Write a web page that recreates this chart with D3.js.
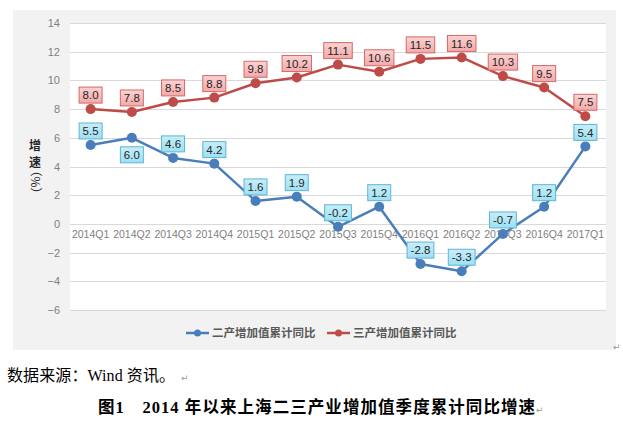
<!DOCTYPE html>
<html>
<head>
<meta charset="utf-8">
<script src="https://cdn.jsdelivr.net/npm/d3@7/dist/d3.min.js"></script>
<style>
  html, body { margin: 0; padding: 0; background: #ffffff; }
  svg { display: block; }
</style>
</head>
<body>
<svg id="chart" width="623" height="423"></svg>
<script>
const categories = ["2014Q1","2014Q2","2014Q3","2014Q4","2015Q1","2015Q2","2015Q3","2015Q4","2016Q1","2016Q2","2016Q3","2016Q4","2017Q1"];
const secondaryValues = [5.5, 6.0, 4.6, 4.2, 1.6, 1.9, -0.2, 1.2, -2.8, -3.3, -0.7, 1.2, 5.4];
const tertiaryValues = [8.0, 7.8, 8.5, 8.8, 9.8, 10.2, 11.1, 10.6, 11.5, 11.6, 10.3, 9.5, 7.5];
const seriesNames = ["二产增加值累计同比", "三产增加值累计同比"];
const yTicks = [-6, -4, -2, 0, 2, 4, 6, 8, 10, 12, 14];
const yTitle = ["增", "速", "（%）"];
const sourceText = "数据来源：Wind 资讯。";
const titleText = "图1　2014 年以来上海二三产业增加值季度累计同比增速";

const svg = d3.select("#chart");
const plot = { left: 70, right: 606, top: 23, bottom: 310 };

// outer panel
svg.append("rect").attr("x", 13).attr("y", 10).attr("width", 603).attr("height", 340)
  .attr("fill", "#f2f2f2");
svg.append("rect").attr("x", plot.left).attr("y", plot.top)
  .attr("width", plot.right - plot.left).attr("height", plot.bottom - plot.top)
  .attr("fill", "#ffffff");

const x = d3.scaleBand().domain(categories).range([plot.left, plot.right]);
const y = d3.scaleLinear().domain([-6, 14]).range([plot.bottom, plot.top]);
const cx = d => x(d) + x.bandwidth() / 2;

// gridlines
svg.append("g").selectAll("line").data(yTicks).join("line")
  .attr("x1", plot.left).attr("x2", plot.right)
  .attr("y1", d => Math.round(y(d)) + 0.5).attr("y2", d => Math.round(y(d)) + 0.5)
  .attr("stroke", "#d9d9d9").attr("stroke-width", 1);

// y axis labels
const yAxis = d3.axisLeft(y).tickValues(yTicks).tickSize(0).tickPadding(0).tickFormat(d3.format("d"));
const gy = svg.append("g").attr("transform", `translate(${plot.left - 10},0)`).call(yAxis);
gy.select(".domain").remove();
gy.selectAll("text").attr("fill", "#7f7f7f").attr("font-size", "11px")
  .attr("font-family", "'Liberation Sans', Arial, sans-serif");

// x axis category labels at zero line
const xAxis = d3.axisBottom(x).tickSize(0).tickPadding(0);
const gx = svg.append("g").attr("transform", `translate(0,${y(0) + 8})`).call(xAxis);
gx.select(".domain").remove();
gx.selectAll("text").attr("fill", "#7f7f7f").attr("font-size", "10.5px")
  .attr("font-family", "'Liberation Sans', Arial, sans-serif").attr("dy", "0.6em");

// y title
const yt = svg.append("g").attr("fill", "#262626")
  .attr("font-family", "'Noto Sans CJK SC', sans-serif").attr("font-size", "12px").attr("font-weight", "bold");
yt.append("text").attr("x", 35).attr("y", 150).attr("text-anchor", "middle").text(yTitle[0]);
yt.append("text").attr("x", 35).attr("y", 167).attr("text-anchor", "middle").text(yTitle[1]);
yt.append("text").attr("transform", "translate(31,182) rotate(90)").attr("text-anchor", "middle")
  .attr("font-size", "12px").attr("font-weight", "normal").text(yTitle[2]);

const series = [
  { values: secondaryValues, color: "#4a7ebb", fill: "#c6eef9", fill2: "#9fe0f3", stroke: "#5eb5d3", below: new Set([1]) },
  { values: tertiaryValues, color: "#be4b48", fill: "#fbd3d3", fill2: "#f3a9a9", stroke: "#d46a67", below: new Set([]) }
];

const defs = svg.append("defs");
series.forEach((s, i) => {
  const g = defs.append("linearGradient").attr("id", "grad" + i).attr("x1", 0).attr("y1", 0).attr("x2", 0).attr("y2", 1);
  g.append("stop").attr("offset", "0%").attr("stop-color", s.fill);
  g.append("stop").attr("offset", "100%").attr("stop-color", s.fill2);
});

const line = d3.line().x((d, i) => cx(categories[i])).y(d => y(d));
series.forEach(s => {
  svg.append("path").datum(s.values).attr("d", line)
    .attr("fill", "none").attr("stroke", s.color).attr("stroke-width", 2.5).attr("stroke-linejoin", "round");
  svg.append("g").selectAll("circle").data(s.values).join("circle")
    .attr("cx", (d, i) => cx(categories[i])).attr("cy", d => y(d)).attr("r", 5)
    .attr("fill", s.color);
});

// data labels
series.forEach((s, si) => {
  const g = svg.append("g");
  s.values.forEach((v, i) => {
    const px = cx(categories[i]);
    const py = y(v) + (s.below.has(i) ? 17 : -14);
    const lg = g.append("g");
    const t = lg.append("text").attr("x", px).attr("y", py).attr("dy", "0.36em")
      .attr("text-anchor", "middle").attr("font-size", "11.5px").attr("fill", "#262626")
      .attr("font-family", "'Liberation Sans', Arial, sans-serif").text(v.toFixed(1));
    const w = t.node().getComputedTextLength() + 7;
    lg.insert("rect", "text").attr("x", px - w / 2).attr("y", py - 8).attr("width", w).attr("height", 16)
      .attr("fill", `url(#grad${si})`).attr("stroke", s.stroke).attr("stroke-width", 1);
  });
});

// legend
const legend = [
  { name: seriesNames[0], color: series[0].color, x0: 186 },
  { name: seriesNames[1], color: series[1].color, x0: 327 }
];
legend.forEach(l => {
  const g = svg.append("g");
  g.append("line").attr("x1", l.x0).attr("x2", l.x0 + 23).attr("y1", 333).attr("y2", 333)
    .attr("stroke", l.color).attr("stroke-width", 2.5);
  g.append("circle").attr("cx", l.x0 + 11.5).attr("cy", 333).attr("r", 3.5).attr("fill", l.color);
  g.append("text").attr("x", l.x0 + 26).attr("y", 333).attr("dy", "0.36em")
    .attr("font-size", "11.5px").attr("font-weight", "bold").attr("fill", "#595959")
    .attr("font-family", "'Noto Sans CJK SC', sans-serif").text(l.name);
});

// small marks
svg.append("text").attr("x", 613).attr("y", 350).attr("font-size", "9px").attr("fill", "#999")
  .attr("font-family", "'DejaVu Sans', sans-serif").text("↵");

// caption and title
const cap = svg.append("text").attr("x", 7).attr("y", 381).attr("font-size", "16px").attr("fill", "#000")
  .attr("font-family", "'Liberation Serif', 'Noto Sans CJK SC', serif")
  .attr("textLength", 168).attr("lengthAdjust", "spacing").text(sourceText);
svg.append("text").attr("x", 181).attr("y", 381).attr("font-size", "9px").attr("fill", "#999")
  .attr("font-family", "'DejaVu Sans', sans-serif").text("↵");

const tt = svg.append("text").attr("x", 98).attr("y", 413).attr("font-size", "16.5px").attr("font-weight", "bold")
  .attr("fill", "#000").attr("font-family", "'Liberation Serif', 'Noto Sans CJK SC', serif")
  .attr("textLength", 437).attr("lengthAdjust", "spacing");
tt.text(titleText);
svg.append("text").attr("x", 536).attr("y", 413).attr("font-size", "9px").attr("fill", "#999")
  .attr("font-family", "'DejaVu Sans', sans-serif").text("↵");
</script>
</body>
</html>
